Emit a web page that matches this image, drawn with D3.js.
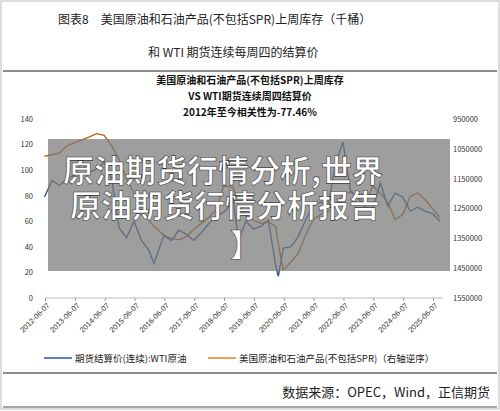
<!DOCTYPE html><html><head><meta charset="utf-8"><script src="https://cdn.jsdelivr.net/npm/d3@7"></script>
<style>body{margin:0;background:#fff}text{font-family:"Noto Sans CJK SC","Noto Sans",sans-serif}</style></head><body><svg id="c" width="500" height="411"></svg><script>
const dates=["2012-06","2012-09","2012-12","2013-03","2013-06","2013-09","2013-12","2014-03","2014-06","2014-09","2014-12","2015-03","2015-06","2015-09","2015-12","2016-02","2016-06","2016-09","2016-12","2017-03","2017-06","2017-09","2017-12","2018-03","2018-06","2018-10","2018-12","2019-03","2019-06","2019-09","2019-12","2020-03","2020-04","2020-06","2020-09","2020-12","2021-03","2021-06","2021-09","2021-12","2022-03","2022-06","2022-09","2022-12","2023-03","2023-06","2023-09","2023-12","2024-03","2024-06","2024-09","2024-12","2025-03","2025-06","2025-09"];
const wti=[79,92,88,93,96,106,98,101,106,93,55,47,60,45,37,27,49,45,53,50,45,51,58,64,67,75,45,60,54,56,61,25,17,39,40,48,61,72,75,72,105,122,84,78,71,70,90,72,82,79,68,71,68,66,60];
const stock=[1075000,1070000,1064000,1040000,1030000,1020000,1010000,999000,1005000,1040000,1086000,1150000,1198000,1250000,1290000,1310000,1340000,1350000,1355000,1345000,1320000,1300000,1280000,1254000,1175000,1180000,1240000,1276000,1290000,1300000,1295000,1310000,1370000,1455000,1430000,1400000,1340000,1287000,1270000,1260000,1240000,1200000,1195000,1210000,1230000,1175000,1200000,1230000,1287000,1270000,1210000,1198000,1220000,1250000,1280000];
const leftTicks=[0,20,40,60,80,100,120,140];
const rightTicks=[950000,1050000,1150000,1250000,1350000,1450000,1550000];
const xTicks=d3.range(2012,2026).map(y=>y+"-06-07");
const svg=d3.select("#c");
svg.append("rect").attr("x",1).attr("y",1).attr("width",498).attr("height",408).attr("fill","none").attr("stroke","#bbb");
svg.append("text").attr("x",58).attr("y",24).attr("font-size",12).attr("fill","#222").text("图表8　美国原油和石油产品(不包括SPR)上周库存（千桶）");
svg.append("text").attr("x",148).attr("y",57).attr("font-size",12).attr("fill","#222").text("和 WTI 期货连续每周四的结算价");
svg.append("line").attr("x1",3).attr("x2",497).attr("y1",71).attr("y2",71).attr("stroke","#666").attr("stroke-width",1.5);
svg.append("line").attr("x1",3).attr("x2",497).attr("y1",373).attr("y2",373).attr("stroke","#666").attr("stroke-width",1.5);
svg.append("line").attr("x1",3).attr("x2",497).attr("y1",407).attr("y2",407).attr("stroke","#888").attr("stroke-width",1.5);
[["美国原油和石油产品(不包括SPR)上周库存",84],["VS WTI期货连续周四结算价",100],["2012年至今相关性为-77.46%",116]].forEach(([t,y])=>svg.append("text").attr("x",250).attr("y",y).attr("text-anchor","middle").attr("font-size",10).attr("font-weight","bold").attr("fill","#111").text(t));
const p=d3.timeParse("%Y-%m"),pd=d3.timeParse("%Y-%m-%d");
const x=d3.scaleTime().domain([pd("2012-06-07"),pd("2025-06-07")]).range([45,433]);
const yl=d3.scaleLinear().domain([0,140]).range([298,119]);
const yr=d3.scaleLinear().domain([950000,1550000]).range([119,298]);
const ax=svg.append("g").attr("transform","translate(0,298)").call(d3.axisBottom(x).tickValues(xTicks.map(pd)).tickFormat(d3.timeFormat("%Y-%m-%d")).tickSize(3));
ax.select(".domain").attr("stroke","#bbb").attr("d","M45,0H443");ax.selectAll("line").attr("stroke","#999");
ax.selectAll("text").attr("font-size",7.5).attr("fill","#333").attr("text-anchor","end").attr("transform","rotate(-45)").attr("dx","-0.3em").attr("dy","0.4em").style("font-family","Liberation Sans,sans-serif");
const al=svg.append("g").attr("transform","translate(36,0)").call(d3.axisLeft(yl).tickValues(leftTicks).tickSize(0));
al.select(".domain").remove();al.selectAll("text").attr("font-size",7.5).attr("fill","#333");
const ar=svg.append("g").attr("transform","translate(450,0)").call(d3.axisRight(yr).tickValues(rightTicks).tickSize(0).tickFormat(d3.format("d")));
ar.select(".domain").remove();ar.selectAll("text").attr("font-size",7.5).attr("fill","#333");
svg.append("path").datum(dates.map((d,i)=>[p(d),stock[i]])).attr("fill","none").attr("stroke","#b5651d").attr("stroke-width",1.4).attr("d",d3.line().x(d=>x(d[0])).y(d=>yr(d[1])));
svg.append("path").datum(dates.map((d,i)=>[p(d),wti[i]])).attr("fill","none").attr("stroke","#2f5597").attr("stroke-width",1.4).attr("d",d3.line().x(d=>x(d[0])).y(d=>yl(d[1])));
svg.append("line").attr("x1",44).attr("x2",72).attr("y1",358).attr("y2",358).attr("stroke","#5b7fbf").attr("stroke-width",2);
svg.append("text").attr("x",75).attr("y",362).attr("font-size",9.5).attr("fill","#222").text("期货结算价(连续):WTI原油");
svg.append("line").attr("x1",208).attr("x2",236).attr("y1",358).attr("y2",358).attr("stroke","#f0a050").attr("stroke-width",2);
svg.append("text").attr("x",239).attr("y",362).attr("font-size",9.5).attr("fill","#222").text("美国原油和石油产品(不包括SPR)（右轴逆序）");
svg.append("text").attr("x",490).attr("y",397).attr("text-anchor","end").attr("font-size",13).attr("fill","#222").text("数据来源：OPEC，Wind，正信期货");
svg.append("rect").attr("x",48).attr("y",139).attr("width",402).attr("height",132).attr("fill","rgba(120,120,120,0.72)");
[["原油期货行情分析,世界",63,182],["原油期货行情分析报告",70,217],["】",230,256]].forEach(([t,xx,y])=>svg.append("text").attr("x",xx).attr("y",y).attr("font-size",31).attr("font-weight","bold").attr("fill","#fff").attr("stroke","#333").attr("stroke-width",0.6).text(t));
</script></body></html>
